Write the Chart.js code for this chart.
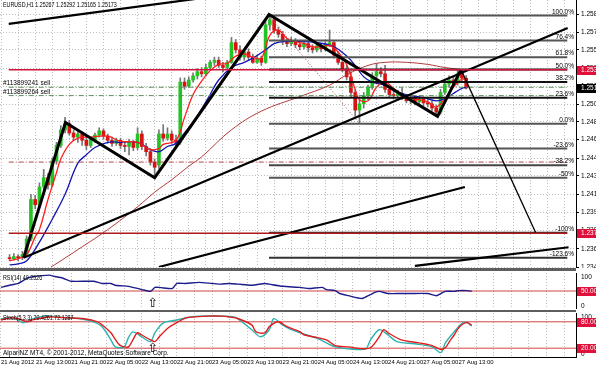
<!DOCTYPE html>
<html>
<head>
<meta charset="utf-8">
<script src="https://cdn.jsdelivr.net/npm/chart.js@4"></script>
<style>
  html, body { margin: 0; padding: 0; background: #fff; width: 596px; height: 368px; overflow: hidden; }
  .pane { position: absolute; left: 0; width: 596px; }
  .split { position: absolute; left: 0; width: 576px; background: #5e5e5e; }
</style>
</head>
<body>
<div class="pane" style="top:0;height:268px"><canvas id="main"></canvas></div>
<div class="split" style="top:268px;height:3px"></div>
<div class="pane" style="top:271px;height:39px"><canvas id="rsi"></canvas></div>
<div class="split" style="top:310px;height:2px"></div>
<div class="pane" style="top:312px;height:56px"><canvas id="stoch"></canvas></div>
<script>
// EURUSD H1, one candle per hour, bar 0 = 21 Aug 05:00
const opens = [1.2354,1.2353,1.2355,1.2354,1.2357,1.2372,1.2410,1.2405,1.2422,1.2431,
  1.2424,1.2447,1.2462,1.2477,1.2483,1.2474,1.2470,1.2473,1.2467,1.2462,
  1.2468,1.2472,1.2476,1.2471,1.2467,1.2464,1.2467,1.2462,1.2461,1.2465,
  1.2460,1.2473,1.2461,1.2456,1.2446,1.2443,1.2473,1.2469,1.2473,1.2467,
  1.2465,1.2523,1.2519,1.2525,1.2529,1.2533,1.2531,1.2537,1.2542,1.2544,
  1.2539,1.2537,1.2542,1.2561,1.2554,1.2547,1.2552,1.2547,1.2542,1.2546,
  1.2542,1.2578,1.2583,1.2573,1.2569,1.2562,1.2560,1.2563,1.2559,1.2557,
  1.2560,1.2556,1.2554,1.2558,1.2555,1.2559,1.2561,1.2549,1.2542,1.2535,
  1.2528,1.2513,1.2496,1.2502,1.2510,1.2518,1.2529,1.2533,1.2531,1.2516,
  1.2511,1.2510,1.2512,1.2508,1.2505,1.2508,1.2504,1.2507,1.2503,1.2502,
  1.2498,1.2494,1.2513,1.2521,1.2525,1.2522,1.2531,1.25267]
const highs = [1.2357,1.2358,1.2357,1.2360,1.2375,1.2415,1.2414,1.2426,1.2439,1.2435,
  1.2450,1.2465,1.2481,1.2489,1.2486,1.2477,1.2476,1.2475,1.2470,1.2470,
  1.2474,1.2479,1.2478,1.2473,1.2470,1.2469,1.2469,1.2465,1.2468,1.2467,
  1.2479,1.2476,1.2464,1.2459,1.2449,1.2477,1.2482,1.2479,1.2476,1.2472,
  1.2527,1.2527,1.2528,1.2532,1.2536,1.2537,1.2540,1.2544,1.2547,1.2547,
  1.2542,1.2544,1.2566,1.2564,1.2558,1.2554,1.2555,1.2550,1.2549,1.2548,
  1.2581,1.2588,1.2586,1.2576,1.2572,1.2565,1.2566,1.2565,1.2562,1.2563,
  1.2562,1.2559,1.2561,1.2560,1.2562,1.2573,1.2562,1.2552,1.2546,1.2539,
  1.2533,1.2516,1.2506,1.2513,1.2520,1.2532,1.2541,1.2537,1.2539,1.2519,
  1.2515,1.2515,1.2517,1.2511,1.2510,1.2510,1.2509,1.2509,1.2506,1.2505,
  1.2501,1.2516,1.2525,1.2529,1.2528,1.2535,1.2535,1.25292]
const lows = [1.2351,1.2352,1.2351,1.2352,1.2355,1.2370,1.2401,1.2402,1.2418,1.2420,
  1.2422,1.2444,1.2460,1.2474,1.2472,1.2467,1.2465,1.2462,1.2458,1.2460,
  1.2465,1.2470,1.2468,1.2464,1.2461,1.2462,1.2459,1.2456,1.2453,1.2457,
  1.2458,1.2458,1.2452,1.2443,1.2433,1.2440,1.2466,1.2467,1.2464,1.2462,
  1.2463,1.2516,1.2518,1.2523,1.2526,1.2528,1.2529,1.2535,1.2539,1.2537,
  1.2533,1.2535,1.2541,1.2551,1.2544,1.2544,1.2544,1.2541,1.2541,1.2539,
  1.2541,1.2573,1.2570,1.2566,1.2559,1.2557,1.2558,1.2556,1.2554,1.2555,
  1.2552,1.2551,1.2552,1.2552,1.2553,1.2557,1.2546,1.2540,1.2533,1.2525,
  1.2509,1.2490,1.2483,1.2498,1.2506,1.2516,1.2527,1.2528,1.2513,1.2508,
  1.2507,1.2508,1.2506,1.2503,1.2502,1.2501,1.2502,1.2500,1.2499,1.2495,
  1.2490,1.2492,1.2511,1.2518,1.2520,1.2520,1.2524,1.25165]
const closes = [1.2353,1.2355,1.2354,1.2357,1.2372,1.2410,1.2405,1.2422,1.2431,1.2424,
  1.2447,1.2462,1.2477,1.2483,1.2474,1.2470,1.2473,1.2467,1.2462,1.2468,
  1.2472,1.2476,1.2471,1.2467,1.2464,1.2467,1.2462,1.2461,1.2465,1.2460,
  1.2473,1.2461,1.2456,1.2446,1.2441,1.2473,1.2469,1.2473,1.2467,1.2465,
  1.2523,1.2519,1.2525,1.2529,1.2533,1.2531,1.2537,1.2542,1.2544,1.2539,
  1.2537,1.2542,1.2561,1.2554,1.2547,1.2552,1.2547,1.2542,1.2546,1.2542,
  1.2578,1.2583,1.2573,1.2569,1.2562,1.2560,1.2563,1.2559,1.2557,1.2560,
  1.2556,1.2554,1.2558,1.2555,1.2559,1.2561,1.2549,1.2542,1.2535,1.2528,
  1.2513,1.2496,1.2502,1.2510,1.2518,1.2529,1.2533,1.2531,1.2516,1.2511,
  1.2510,1.2512,1.2508,1.2505,1.2508,1.2504,1.2507,1.2503,1.2502,1.2498,
  1.2494,1.2513,1.2521,1.2525,1.2522,1.2531,1.2527,1.25173]

// moving averages at some bars
const fastBars = [0,2,4,6,7,9,11,12,14,16,19,23,26,30,33,35,36,39,41,43,45,47,49,51,53,55,57,59,61,63,65,67,69,71,73,75,77,79,81,82,84,86,88,90,92,94,96,98,100,102,104,106,107]
const fastMA = [1.2351,1.2353,1.2357,1.2374,1.2381,1.2410,1.2436,1.2449,1.2463,1.2469,1.2470,1.2471,1.2466,1.2465,1.2458,1.2459,1.2463,1.2467,1.2489,1.2511,1.2524,1.2534,1.2540,1.2541,1.2548,1.2550,1.2547,1.2546,1.2568,1.2573,1.2565,1.2562,1.2560,1.2557,1.2557,1.2558,1.2552,1.2540,1.2516,1.2506,1.2505,1.2518,1.2523,1.2517,1.2511,1.2508,1.2506,1.2504,1.2499,1.2507,1.2518,1.2526,1.2525]
const midBars = [0,2,4,7,10,13,16,18,20,23,26,30,33,35,37,39,41,43,45,47,49,52,55,57,60,62,64,68,72,76,79,81,83,85,87,89,91,94,97,100,102,104,106,107]
const midMA = [1.2347,1.2348,1.2351,1.2369,1.2391,1.2415,1.2445,1.2453,1.2460,1.2465,1.2465,1.2465,1.2458,1.2456,1.2461,1.2464,1.2474,1.2484,1.2497,1.2511,1.2525,1.2537,1.2542,1.2546,1.2554,1.2560,1.2562,1.2562,1.2561,1.2557,1.2548,1.2539,1.2528,1.2523,1.2521,1.2518,1.2513,1.2510,1.2508,1.2505,1.2507,1.2512,1.2517,1.2518]
const slowBars = [9,15,23,30,34,38,42,45,52,59,68,75,79,84,88,93,98,102,106,107]
const slowMA = [1.2343,1.2359,1.2381,1.2403,1.2417,1.2429,1.2442,1.2451,1.2477,1.2495,1.2509,1.2520,1.2530,1.2539,1.2542,1.2542,1.2540,1.2537,1.2535,1.2534]

const rsiBars = [0,2,4,6,7,11,12,14,16,21,23,25,26,29,30,32,34,35,36,38,39,40,42,45,48,50,52,54,57,60,61,64,68,70,73,74,76,77,79,82,83,85,86,88,91,93,97,99,100,101,103,104,106,107]
const rsiValues = [60,66,71,86,89,94,91,86,77,77,71,71,66,63,60,54,49,60,60,57,57,71,71,74,71,69,71,69,66,71,69,63,60,57,60,54,51,43,37,29,34,46,49,43,43,43,43,37,43,49,49,51,51,49.25]

const stochMainBars = [0,2,4,5,7,10,14,18,21,23,25,26,28,29,30,32,34,35,37,40,43,45,53,55,57,59,61,62,64,66,68,72,76,81,83,84,86,88,90,94,98,100,101,103,104,105,106,107]
const stochMain = [87,89,84,78,86,93,90,87,80,69,39,23,23,44,57,46,35,55,78,84,91,93,91,78,62,46,62,87,73,62,55,42,23,17,19,39,62,50,35,30,23,10,32,57,69,78,78,70.43]
const stochSigBars = [0,2,4,6,7,11,15,19,22,23,25,26,27,28,29,30,31,32,34,35,36,38,40,42,44,47,50,52,54,57,58,60,61,63,65,68,69,72,74,76,79,82,84,86,87,88,91,95,98,100,101,102,103,104,105,106,107]
const stochSignal = [84,89,87,80,84,91,89,87,80,73,55,40,27,23,23,39,55,50,39,35,46,66,78,89,91,93,93,91,87,73,57,55,69,80,69,57,50,44,39,26,23,19,21,46,62,55,39,32,26,17,21,36,50,66,75,78,72.13]

// chart objects (bar, price)
const zigzagBars = [3.3, 13.1, 34, 60.8, 100.3, 105.8]
const zigzagPrices = [1.2354, 1.2484, 1.2431, 1.2588, 1.2490, 1.2535]
const projectionBars = [105.8, 123.3]
const projectionPrices = [1.2535, 1.2378]
const trendLines = [
  { bars: [-0.2, 54.4], prices: [1.2579, 1.2609] },
  { bars: [3.3, 130.8], prices: [1.2354, 1.2575] },
  { bars: [35, 106.7], prices: [1.2345, 1.2422] },
  { bars: [95, 131], prices: [1.2346, 1.2364] }
]
const fibStart = 60.8
const fibLabels = ['100.0%','76.4%','61.8%','50.0%','38.2%','23.6%','0.0%','-23.6%','-38.2%','-50%','-100%','-123.6%']
const fibPrices = [1.2587,1.2563,1.2547,1.2535,1.2523,1.2508,1.2483,1.2459,1.2443,1.2431,1.2378,1.2354]
const fibColors = ['#555','#555','#555','#222','#111','#111','#555','#555','#444','#555','#333','#333']
const fibDiagBars = [60.8, 82]
const fibDiagPrices = [1.2587, 1.2483]

const priceTicks = [1.25885,1.25710,1.25540,1.25365,1.25190,1.25015,1.24848,1.24678,1.24495,1.24328,1.24150,1.23975,1.23800,1.23625,1.23450]
const timeLabels = ['21 Aug 2012','21 Aug 13:00','21 Aug 21:00','22 Aug 05:00','22 Aug 13:00','22 Aug 21:00','23 Aug 05:00','23 Aug 13:00','23 Aug 21:00','24 Aug 05:00','24 Aug 13:00','24 Aug 21:00','27 Aug 05:00','27 Aug 13:00']

const FAM = '"Liberation Sans Narrow", "Liberation Sans", Arial, sans-serif'
const FONT = '6.5px ' + FAM
const X0 = -0.2, X1 = 130.7
const gridBars = Array.from({ length: 33 }, (_, k) => k * 4)

Chart.defaults.font.family = FAM
Chart.defaults.font.size = 6.5
Chart.defaults.color = '#000'
Chart.defaults.animation = false
Chart.defaults.events = []
Chart.defaults.maintainAspectRatio = false
Chart.defaults.plugins.legend.display = false
Chart.defaults.plugins.tooltip.enabled = false

const pts = (xs, ys) => xs.map((x, i) => ({ x, y: ys[i] }))
const flat = v => [{ x: X0, y: v }, { x: X1, y: v }]

function line(data, color, width, extra = {}) {
  return Object.assign({ type: 'line', data, borderColor: color, borderWidth: width, pointRadius: 0, fill: false, tension: 0, order: 1 }, extra)
}

function xAxis(labels) {
  return {
    type: 'linear', min: X0, max: X1,
    afterBuildTicks: s => { s.ticks = gridBars.map(v => ({ value: v })) },
    afterFit: s => { s.height = labels ? 11 : 0; s.paddingLeft = 0; s.paddingRight = 0 },
    grid: { color: '#bdbdbd', drawTicks: false },
    border: { display: false, dash: [1, 2] },
    ticks: {
      display: labels, align: 'start', padding: 2, maxRotation: 0, autoSkip: false,
      font: { size: 5.9 },
      callback: v => (v % 8 === 0 && v / 8 < timeLabels.length) ? timeLabels[v / 8] : ''
    }
  }
}

const mt4 = {
  id: 'mt4',
  afterDraw(chart, args, o) {
    const { ctx, chartArea: a, scales } = chart
    const xs = scales.x, ys = scales.y
    ctx.save()
    ctx.font = FONT
    ctx.strokeStyle = '#000'
    ctx.lineWidth = 1
    ctx.beginPath()
    ctx.moveTo(a.right + 0.5, a.top)
    ctx.lineTo(a.right + 0.5, a.bottom)
    if (o.bottomLine) { ctx.moveTo(a.left, a.bottom + 0.5); ctx.lineTo(a.right + 1, a.bottom + 0.5) }
    ctx.stroke()

    ctx.fillStyle = '#000'
    for (const t of o.texts || []) {
      const sx = t.squeeze || 1
      ctx.save()
      ctx.translate(a.left + 3, t.bottom ? a.bottom - 1 : a.top + 2)
      ctx.scale(sx, 1)
      ctx.textAlign = 'left'
      ctx.textBaseline = t.bottom ? 'bottom' : 'top'
      ctx.fillText(t.text, 0, 0)
      ctx.restore()
    }
    for (const t of o.priceTexts || []) {
      const py = ys.getPixelForValue(t.value)
      ctx.fillStyle = '#000'
      ctx.textBaseline = 'bottom'
      ctx.textAlign = t.right ? 'right' : 'left'
      ctx.fillText(t.text, t.right ? a.right - 2 : a.left + 3, py - 0.5)
    }
    for (const t of o.axisLabels || []) {
      const py = ys.getPixelForValue(t.value)
      ctx.fillStyle = '#000'
      ctx.textAlign = 'left'
      ctx.textBaseline = t.baseline
      ctx.fillText(t.text, a.right + 5, t.baseline === 'top' ? py + 1 : py)
    }
    for (const b of o.boxes || []) {
      const py = Math.round(ys.getPixelForValue(b.value))
      ctx.fillStyle = b.color
      ctx.fillRect(a.right + 1, py - 4, 30, 9)
      ctx.fillStyle = '#fff'
      ctx.textAlign = 'left'
      ctx.textBaseline = 'middle'
      ctx.fillText(b.text, a.right + 5, py + 0.5)
    }
    if (o.arrows) {
      ctx.font = '13px "DejaVu Sans"'
      ctx.fillStyle = '#000'
      ctx.textAlign = 'center'
      ctx.textBaseline = 'middle'
      for (const ar of o.arrows) ctx.fillText('\u21E7', xs.getPixelForValue(ar.bar), ys.getPixelForValue(ar.value))
    }
    ctx.restore()
  }
}

// ---------- price window ----------
const bars = opens.map((_, i) => i)
const candleColors = bars.map(i => closes[i] >= opens[i] ? '#22c322' : '#d61414')

const mainSets = [
  { type: 'bar', data: bars.map(i => ({ x: i, y: [lows[i], highs[i]] })), backgroundColor: '#777', barThickness: 1, grouped: false, order: 11 },
  { type: 'bar', data: bars.map(i => ({ x: i, y: [opens[i], closes[i]] })), backgroundColor: candleColors, barThickness: 3, grouped: false, minBarLength: 1, order: 10 },
  line(pts(slowBars, slowMA), '#b23a3a', 1, { tension: 0.4, order: 6 }),
  line(pts(midBars, midMA), '#1414b4', 1.3, { tension: 0.4, order: 5 }),
  line(pts(fastBars, fastMA), '#ff1e1e', 1.3, { tension: 0.4, order: 4 }),
  line(pts(fibDiagBars, fibDiagPrices), '#b05050', 1, { borderDash: [1, 2], order: 3 })
]
fibPrices.forEach((p, k) => mainSets.push(line([{ x: fibStart, y: p }, { x: X1, y: p }], fibColors[k], 2, { order: 3 })))
mainSets.push(
  line(flat(1.2518), '#5f8f5f', 1, { borderDash: [5, 2, 1, 2], order: 2 }),
  line(flat(1.2510), '#5f8f5f', 1, { borderDash: [5, 2, 1, 2], order: 2 }),
  line(flat(1.2446), '#b04848', 1, { borderDash: [5, 2, 1, 2], order: 2 }),
  line(flat(1.25348), '#d3143c', 1.5, { order: 0 }),
  line(flat(1.23775), '#b01a1a', 1.5, { order: 0 })
)
trendLines.forEach(t => mainSets.push(line(pts(t.bars, t.prices), '#000', 2.2, { order: 1 })))
mainSets.push(
  line(pts(zigzagBars, zigzagPrices), '#000', 3, { order: 1 }),
  line(pts(projectionBars, projectionPrices), '#000', 1.3, { order: 1 })
)

new Chart(document.getElementById('main'), {
  type: 'bar',
  data: { datasets: mainSets },
  options: {
    layout: { padding: { bottom: 1 } },
    scales: {
      x: xAxis(false),
      y: {
        position: 'right', min: 1.2345, max: 1.2602,
        afterBuildTicks: s => { s.ticks = priceTicks.map(v => ({ value: v })) },
        afterFit: s => { s.width = 20; s.paddingTop = 0; s.paddingBottom = 0 },
        grid: { color: '#bdbdbd', tickColor: '#000', tickLength: 3 },
        border: { display: false, dash: [1, 2] },
        ticks: { padding: 2, callback: v => v.toFixed(5) }
      }
    },
    plugins: {
      mt4: {
        texts: [{ text: 'EURUSD,H1 1.25267 1.25292 1.25165 1.25173', squeeze: 0.82 }],
        priceTexts: fibLabels.map((t, k) => ({ text: t, value: fibPrices[k], right: true }))
          .concat([{ text: '#113899241 sell', value: 1.2518 }, { text: '#113899264 sell', value: 1.2510 }]),
        boxes: [
          { value: 1.25348, text: '1.25348', color: '#e0103a' },
          { value: 1.25173, text: '1.25173', color: '#000' },
          { value: 1.23775, text: '1.23775', color: '#e0103a' }
        ]
      }
    }
  },
  plugins: [mt4]
})

// ---------- sub windows ----------
function subY() {
  return {
    position: 'right', min: 0, max: 100,
    afterFit: s => { s.width = 20; s.paddingTop = 0; s.paddingBottom = 0 },
    grid: { display: false },
    border: { display: false },
    ticks: { display: false }
  }
}

new Chart(document.getElementById('rsi'), {
  type: 'line',
  data: {
    datasets: [
      line(flat(50), '#d04545', 1, { order: 2 }),
      line(pts(rsiBars, rsiValues), '#1c1c8c', 1.4, { tension: 0.2 })
    ]
  },
  options: {
    layout: { padding: { top: 2, bottom: 1 } },
    scales: { x: xAxis(false), y: subY() },
    plugins: {
      mt4: {
        texts: [{ text: 'RSI(14) 49.2526', squeeze: 0.82 }],
        axisLabels: [{ text: '100', value: 100, baseline: 'top' }, { text: '0', value: 0, baseline: 'bottom' }],
        boxes: [{ value: 50, text: '50.0000', color: '#e0103a' }],
        arrows: [{ bar: 34.5, value: 15 }]
      }
    }
  },
  plugins: [mt4]
})

new Chart(document.getElementById('stoch'), {
  type: 'line',
  data: {
    datasets: [
      line(flat(80), '#d04545', 1, { order: 3 }),
      line(flat(20), '#d04545', 1, { order: 3 }),
      line(pts(stochMainBars, stochMain), '#2bb3b0', 1.4, { tension: 0.3, order: 2 }),
      line(pts(stochSigBars, stochSignal), '#e01e1e', 1.4, { tension: 0.3, order: 1 })
    ]
  },
  options: {
    layout: { padding: { top: 1 } },
    scales: { x: xAxis(true), y: subY() },
    plugins: {
      mt4: {
        bottomLine: true,
        texts: [
          { text: 'Stoch(5,3,3) 70.4261 72.1287', squeeze: 0.82 },
          { text: 'AlpariNZ MT4, \u00A9 2001-2012, MetaQuotes Software Corp.', bottom: true }
        ],
        axisLabels: [{ text: '100', value: 100, baseline: 'top' }, { text: '0', value: 0, baseline: 'bottom' }],
        boxes: [{ value: 80, text: '80.0000', color: '#e0103a' }, { value: 20, text: '20.0000', color: '#e0103a' }],
        arrows: [{ bar: 34.5, value: 18 }]
      }
    }
  },
  plugins: [mt4]
})
</script>
</body>
</html>
